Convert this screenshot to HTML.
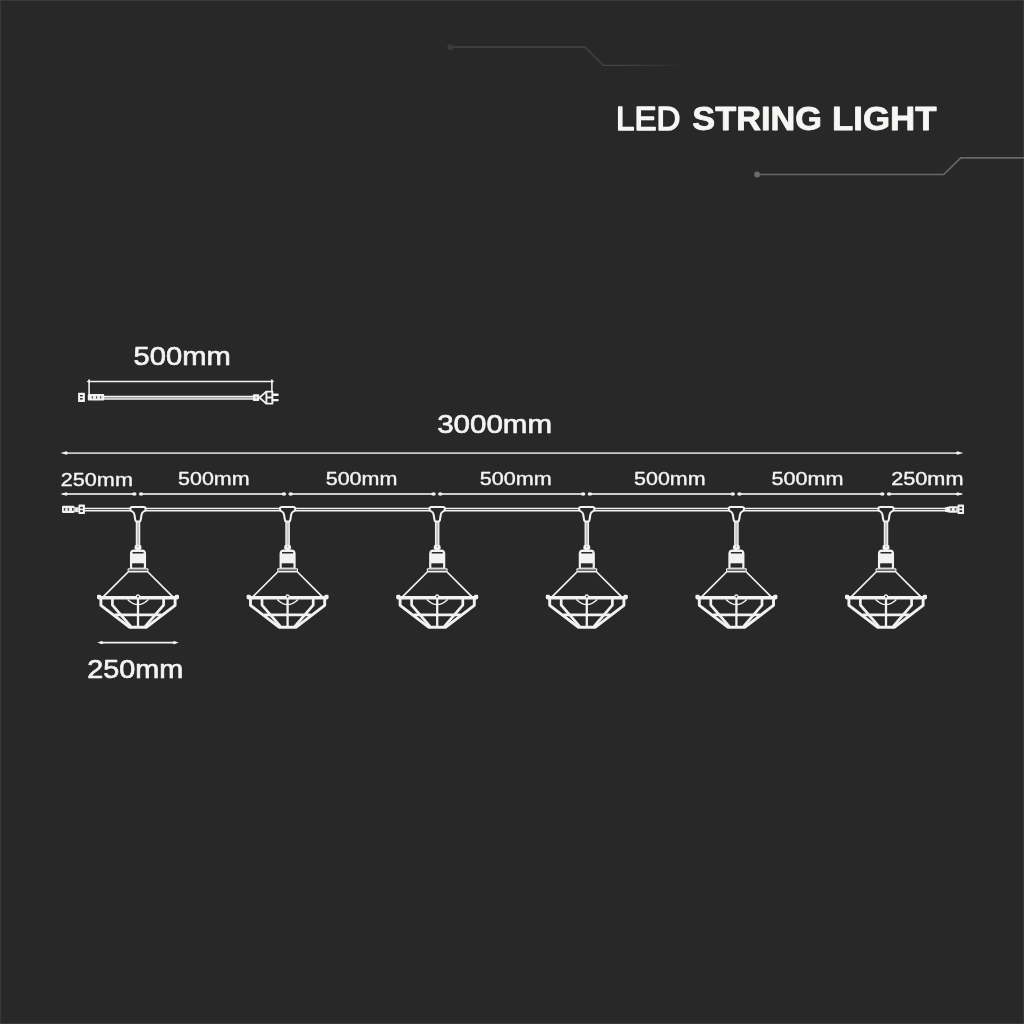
<!DOCTYPE html>
<html lang="en">
<head>
<meta charset="utf-8">
<title>LED String Light</title>
<style>
html,body{margin:0;padding:0;background:#282828;}
body{width:1024px;height:1024px;overflow:hidden;font-family:"Liberation Sans",sans-serif;}
svg{display:block;will-change:transform;}
text{font-family:"Liberation Sans","DejaVu Sans",sans-serif;fill:#f4f4f4;}
.lbl{font-size:26.2px;stroke:#f4f4f4;stroke-width:.65px;stroke-linejoin:round;}
.sm{font-size:19px;stroke:#f4f4f4;stroke-width:.38px;stroke-linejoin:round;}
</style>
</head>
<body>
<svg width="1024" height="1024" viewBox="0 0 1024 1024">
<defs>
<linearGradient id="fadeL" gradientUnits="userSpaceOnUse" x1="450" y1="0" x2="680" y2="0">
<stop offset="0" stop-color="#444"/><stop offset=".75" stop-color="#444"/><stop offset="1" stop-color="#2b2b2b"/>
</linearGradient>
</defs>
<rect x="0" y="0" width="1024" height="1024" fill="#282828"/>
<rect x=".5" y=".5" width="1023" height="1023" fill="none" stroke="#393939" stroke-width="1"/>
<!-- header decoration -->
<path d="M450.4,47 H584.7 L603.5,65.4 H679" fill="none" stroke="url(#fadeL)" stroke-width="1.4"/>
<circle cx="450.4" cy="47" r="3" fill="#3a3a3a"/>
<path d="M757,174.5 H943.7 L960.7,157.8 H1024" fill="none" stroke="#686868" stroke-width="1.7"/>
<circle cx="757.1" cy="174.5" r="2.9" fill="#6a6a6a"/>
<!-- title -->
<text x="616" y="129.9" font-size="33.2" stroke="#f6f6f4" stroke-width="1.5" stroke-linejoin="round" textLength="64.4" lengthAdjust="spacingAndGlyphs" style="fill:#f6f6f4">LED</text>
<text x="692.3" y="129.9" font-size="33.2" font-weight="700" stroke="#f6f6f4" stroke-width=".8" stroke-linejoin="round" textLength="129.8" lengthAdjust="spacingAndGlyphs" style="fill:#f6f6f4">STRING</text>
<text x="832" y="129.9" font-size="33.2" font-weight="700" stroke="#f6f6f4" stroke-width=".8" stroke-linejoin="round" textLength="104.6" lengthAdjust="spacingAndGlyphs" style="fill:#f6f6f4">LIGHT</text>

<!-- extension cable 500mm -->
<text class="lbl" x="133.6" y="364.8" textLength="97.1" lengthAdjust="spacingAndGlyphs">500mm</text>
<path d="M88.4,381.4 H272.6" stroke="#f2f2f2" stroke-width="1.45" fill="none"/>
<path d="M89.1,379.4 V394.4 M271.9,379.4 V391.2" stroke="#f2f2f2" stroke-width="1.6" fill="none"/>
<path d="M86.6,381.4 L90,379.6 V383.2 Z M274.4,381.4 L271,379.6 V383.2 Z" fill="#f2f2f2"/>
<path d="M104,397.7 H253" stroke="#a4a4a4" stroke-width="2.6" fill="none"/>
<path d="M104,396.3 H253 M104,399.1 H253" stroke="#f2f2f2" stroke-width="1.2" fill="none"/>
<rect x="78.1" y="392.8" width="6.8" height="9.2" rx=".6" fill="#f2f2f2"/>
<rect x="80" y="395" width="2.7" height="1.4" fill="#282828"/><rect x="80" y="398.1" width="2.7" height="1.4" fill="#282828"/>
<rect x="87.8" y="394.1" width="16.4" height="6.5" rx="1" fill="#f2f2f2"/>
<path d="M92.4,396.2 V398.6 M96.6,396.2 V398.6 M100.6,396.2 V398.6" stroke="#555" stroke-width="1.3"/>
<rect x="252.9" y="394.2" width="6.4" height="6.8" rx="1" fill="#f2f2f2"/>
<rect x="255.4" y="396.8" width="1.6" height="1.6" fill="#999"/>
<path d="M259.6,397.6 L266.2,391.6 H272.4 V403.6 H266.2 Z" fill="#282828" stroke="#f2f2f2" stroke-width="1.9" stroke-linejoin="round"/>
<path d="M266.4,391.4 V403.8 M266.4,397.5 H272.6" stroke="#f2f2f2" stroke-width="1.9"/>
<path d="M272.6,394.7 H277.6 M272.6,400.1 H277.6" stroke="#f2f2f2" stroke-width="2.4" stroke-linecap="round"/>

<!-- overall 3000mm -->
<text class="lbl" x="437.2" y="432.8" textLength="114.8" lengthAdjust="spacingAndGlyphs">3000mm</text>
<path d="M64,453.1 H960" stroke="#cbcbcb" stroke-width="1.8" fill="none"/>
<path d="M60.4,453.1 L66.59,451.35 Q69.00,453.1 66.59,454.85 Z" fill="#f0f0f0"/><path d="M963.4,453.1 L957.21,451.35 Q954.80,453.1 957.21,454.85 Z" fill="#f0f0f0"/>

<text class="sm" x="60.8" y="485.8" textLength="72.1" lengthAdjust="spacingAndGlyphs">250mm</text>
<text class="sm" x="178.1" y="484.8" textLength="71.4" lengthAdjust="spacingAndGlyphs">500mm</text>
<text class="sm" x="325.7" y="484.8" textLength="71.7" lengthAdjust="spacingAndGlyphs">500mm</text>
<text class="sm" x="479.8" y="484.8" textLength="71.9" lengthAdjust="spacingAndGlyphs">500mm</text>
<text class="sm" x="634.1" y="484.8" textLength="71.4" lengthAdjust="spacingAndGlyphs">500mm</text>
<text class="sm" x="771.5" y="484.8" textLength="72.0" lengthAdjust="spacingAndGlyphs">500mm</text>
<text class="sm" x="891.2" y="484.9" textLength="72.3" lengthAdjust="spacingAndGlyphs">250mm</text>
<path d="M62.4,494.0 H134.6" stroke="#cbcbcb" stroke-width="1.8" fill="none"/>
<path d="M60.4,494.0 L66.59,492.3 Q69.00,494.0 66.59,495.7 Z" fill="#f0f0f0"/><ellipse cx="134.3" cy="494.0" rx="2.3" ry="1.65" fill="#f0f0f0"/>
<path d="M140.8,494.0 H284.2" stroke="#cbcbcb" stroke-width="1.8" fill="none"/>
<ellipse cx="141.1" cy="494.0" rx="2.3" ry="1.65" fill="#f0f0f0"/><ellipse cx="283.9" cy="494.0" rx="2.3" ry="1.65" fill="#f0f0f0"/>
<path d="M290.4,494.0 H433.8" stroke="#cbcbcb" stroke-width="1.8" fill="none"/>
<ellipse cx="290.7" cy="494.0" rx="2.3" ry="1.65" fill="#f0f0f0"/><ellipse cx="433.5" cy="494.0" rx="2.3" ry="1.65" fill="#f0f0f0"/>
<path d="M440.0,494.0 H583.4" stroke="#cbcbcb" stroke-width="1.8" fill="none"/>
<ellipse cx="440.3" cy="494.0" rx="2.3" ry="1.65" fill="#f0f0f0"/><ellipse cx="583.1" cy="494.0" rx="2.3" ry="1.65" fill="#f0f0f0"/>
<path d="M589.6,494.0 H733.0" stroke="#cbcbcb" stroke-width="1.8" fill="none"/>
<ellipse cx="589.9" cy="494.0" rx="2.3" ry="1.65" fill="#f0f0f0"/><ellipse cx="732.7" cy="494.0" rx="2.3" ry="1.65" fill="#f0f0f0"/>
<path d="M739.2,494.0 H882.6" stroke="#cbcbcb" stroke-width="1.8" fill="none"/>
<ellipse cx="739.5" cy="494.0" rx="2.3" ry="1.65" fill="#f0f0f0"/><ellipse cx="882.3" cy="494.0" rx="2.3" ry="1.65" fill="#f0f0f0"/>
<path d="M888.8,494.0 H961.4" stroke="#cbcbcb" stroke-width="1.8" fill="none"/>
<ellipse cx="889.1" cy="494.0" rx="2.3" ry="1.65" fill="#f0f0f0"/><path d="M963.4,494.0 L957.21,492.3 Q954.80,494.0 957.21,495.7 Z" fill="#f0f0f0"/>
<!-- main cable -->
<path d="M84,509.5 H945.5" stroke="#555" stroke-width="2.6" fill="none"/>
<path d="M84,508.35 H945.5 M84,510.75 H945.5" stroke="#f2f2f2" stroke-width="1.35" fill="none"/>
<rect x="62" y="505.8" width="12.6" height="7.2" rx="1.2" fill="#f2f2f2"/>
<rect x="63.8" y="508" width="1.5" height="2.7" fill="#444"/><rect x="67.6" y="508" width="1.5" height="2.7" fill="#555"/><rect x="72" y="508" width="1.6" height="2.7" fill="#444"/>
<rect x="74.4" y="507.2" width="4.4" height="5" fill="#e6e6e6"/>
<rect x="78.5" y="504.6" width="6.4" height="9.4" rx=".6" fill="#f2f2f2"/>
<rect x="80.2" y="506.8" width="2.6" height="1.8" fill="#282828"/><rect x="80.2" y="510.2" width="2.6" height="1.8" fill="#282828"/>
<path d="M944.9,507.4 L950,506.2 H957.8 V512.7 H950 L944.9,511.8 Z" fill="#f2f2f2"/>
<rect x="950.3" y="508" width="1.5" height="2.7" fill="#555"/><rect x="954.7" y="508" width="1.6" height="2.7" fill="#666"/>
<rect x="957.6" y="504.6" width="6.4" height="9.4" rx=".6" fill="#f2f2f2"/>
<rect x="959.5" y="506.8" width="2.6" height="1.7" fill="#282828"/><rect x="959.5" y="510.3" width="2.6" height="1.7" fill="#282828"/>

<g transform="translate(138.00,0)">
<path d="M0,521 V545.4" stroke="#c4c4c4" stroke-width="3.6" fill="none"/>
<path d="M-1.65,521 V545.4 M1.65,521 V545.4" stroke="#f2f2f2" stroke-width="1.2" fill="none"/>
<path d="M-5.7,507 H5.7 Q7.7,507 7.7,508.9 Q7.7,510.8 5.6,511.6 Q4,512.4 3.6,514.5 L2.7,520 Q2.5,521.4 1.2,521.4 H-1.2 Q-2.5,521.4 -2.7,520 L-3.6,514.5 Q-4,512.4 -5.6,511.6 Q-7.7,510.8 -7.7,508.9 Q-7.7,507 -5.7,507 Z" fill="#282828" stroke="#f2f2f2" stroke-width="2" stroke-linejoin="round"/>
<rect x="-3.5" y="544.8" width="7" height="5.2" rx="2.2" fill="#f2f2f2"/>
<circle cx="0" cy="546.6" r=".55" fill="#777"/>
<path d="M-8.05,568.6 V554 Q-8.05,549.6 -3.8,549.6 H3.8 Q8.05,549.6 8.05,554 V568.6 Z" fill="#f2f2f2"/>
<rect x="-5.6" y="552.1" width="11.2" height="1.5" rx=".5" fill="#282828"/>
<rect x="-5.85" y="563.3" width="11.7" height="4.3" fill="#282828"/>
<rect x="-10.4" y="568.3" width="20.8" height="4.3" rx=".8" fill="#f2f2f2"/>
<rect x="-9.3" y="569.4" width="18.6" height="1.4" fill="#4a4a4a"/>
<path d="M-9.9,572 L-34.6,596.6 M9.9,572 L34.6,596.6" stroke="#f2f2f2" stroke-width="1.7" fill="none"/>
<path d="M-10.4,599.4 Q0,609.8 10.4,599.4" stroke="#f2f2f2" stroke-width="1.4" fill="none"/>
<path d="M-37.1,599 V605.3 L-8.6,627.2 H8.6 L37.1,605.3 V599" stroke="#f2f2f2" stroke-width="2.9" fill="none" stroke-linejoin="round"/>
<path d="M-25.6,599 V605.2 L-7.2,626.4 M25.6,599 V605.2 L7.2,626.4" stroke="#f2f2f2" stroke-width="2.7" fill="none" stroke-linejoin="round"/>
<path d="M-23.6,614.8 H23.6" stroke="#f2f2f2" stroke-width="2.8" fill="none"/>
<path d="M0,598 V627" stroke="#f2f2f2" stroke-width="2.3" fill="none"/>
<rect x="-40.4" y="596" width="80.8" height="3.4" rx=".8" fill="#f2f2f2"/>
<rect x="-41" y="594.7" width="4.2" height="4.2" rx="1.2" fill="#f2f2f2"/>
<rect x="36.8" y="594.7" width="4.2" height="4.2" rx="1.2" fill="#f2f2f2"/>
<circle cx="0" cy="596.6" r="1.6" fill="#282828" stroke="#f2f2f2" stroke-width="1.3"/>
</g>
<g transform="translate(287.60,0)">
<path d="M0,521 V545.4" stroke="#c4c4c4" stroke-width="3.6" fill="none"/>
<path d="M-1.65,521 V545.4 M1.65,521 V545.4" stroke="#f2f2f2" stroke-width="1.2" fill="none"/>
<path d="M-5.7,507 H5.7 Q7.7,507 7.7,508.9 Q7.7,510.8 5.6,511.6 Q4,512.4 3.6,514.5 L2.7,520 Q2.5,521.4 1.2,521.4 H-1.2 Q-2.5,521.4 -2.7,520 L-3.6,514.5 Q-4,512.4 -5.6,511.6 Q-7.7,510.8 -7.7,508.9 Q-7.7,507 -5.7,507 Z" fill="#282828" stroke="#f2f2f2" stroke-width="2" stroke-linejoin="round"/>
<rect x="-3.5" y="544.8" width="7" height="5.2" rx="2.2" fill="#f2f2f2"/>
<circle cx="0" cy="546.6" r=".55" fill="#777"/>
<path d="M-8.05,568.6 V554 Q-8.05,549.6 -3.8,549.6 H3.8 Q8.05,549.6 8.05,554 V568.6 Z" fill="#f2f2f2"/>
<rect x="-5.6" y="552.1" width="11.2" height="1.5" rx=".5" fill="#282828"/>
<rect x="-5.85" y="563.3" width="11.7" height="4.3" fill="#282828"/>
<rect x="-10.4" y="568.3" width="20.8" height="4.3" rx=".8" fill="#f2f2f2"/>
<rect x="-9.3" y="569.4" width="18.6" height="1.4" fill="#4a4a4a"/>
<path d="M-9.9,572 L-34.6,596.6 M9.9,572 L34.6,596.6" stroke="#f2f2f2" stroke-width="1.7" fill="none"/>
<path d="M-10.4,599.4 Q0,609.8 10.4,599.4" stroke="#f2f2f2" stroke-width="1.4" fill="none"/>
<path d="M-37.1,599 V605.3 L-8.6,627.2 H8.6 L37.1,605.3 V599" stroke="#f2f2f2" stroke-width="2.9" fill="none" stroke-linejoin="round"/>
<path d="M-25.6,599 V605.2 L-7.2,626.4 M25.6,599 V605.2 L7.2,626.4" stroke="#f2f2f2" stroke-width="2.7" fill="none" stroke-linejoin="round"/>
<path d="M-23.6,614.8 H23.6" stroke="#f2f2f2" stroke-width="2.8" fill="none"/>
<path d="M0,598 V627" stroke="#f2f2f2" stroke-width="2.3" fill="none"/>
<rect x="-40.4" y="596" width="80.8" height="3.4" rx=".8" fill="#f2f2f2"/>
<rect x="-41" y="594.7" width="4.2" height="4.2" rx="1.2" fill="#f2f2f2"/>
<rect x="36.8" y="594.7" width="4.2" height="4.2" rx="1.2" fill="#f2f2f2"/>
<circle cx="0" cy="596.6" r="1.6" fill="#282828" stroke="#f2f2f2" stroke-width="1.3"/>
</g>
<g transform="translate(437.20,0)">
<path d="M0,521 V545.4" stroke="#c4c4c4" stroke-width="3.6" fill="none"/>
<path d="M-1.65,521 V545.4 M1.65,521 V545.4" stroke="#f2f2f2" stroke-width="1.2" fill="none"/>
<path d="M-5.7,507 H5.7 Q7.7,507 7.7,508.9 Q7.7,510.8 5.6,511.6 Q4,512.4 3.6,514.5 L2.7,520 Q2.5,521.4 1.2,521.4 H-1.2 Q-2.5,521.4 -2.7,520 L-3.6,514.5 Q-4,512.4 -5.6,511.6 Q-7.7,510.8 -7.7,508.9 Q-7.7,507 -5.7,507 Z" fill="#282828" stroke="#f2f2f2" stroke-width="2" stroke-linejoin="round"/>
<rect x="-3.5" y="544.8" width="7" height="5.2" rx="2.2" fill="#f2f2f2"/>
<circle cx="0" cy="546.6" r=".55" fill="#777"/>
<path d="M-8.05,568.6 V554 Q-8.05,549.6 -3.8,549.6 H3.8 Q8.05,549.6 8.05,554 V568.6 Z" fill="#f2f2f2"/>
<rect x="-5.6" y="552.1" width="11.2" height="1.5" rx=".5" fill="#282828"/>
<rect x="-5.85" y="563.3" width="11.7" height="4.3" fill="#282828"/>
<rect x="-10.4" y="568.3" width="20.8" height="4.3" rx=".8" fill="#f2f2f2"/>
<rect x="-9.3" y="569.4" width="18.6" height="1.4" fill="#4a4a4a"/>
<path d="M-9.9,572 L-34.6,596.6 M9.9,572 L34.6,596.6" stroke="#f2f2f2" stroke-width="1.7" fill="none"/>
<path d="M-10.4,599.4 Q0,609.8 10.4,599.4" stroke="#f2f2f2" stroke-width="1.4" fill="none"/>
<path d="M-37.1,599 V605.3 L-8.6,627.2 H8.6 L37.1,605.3 V599" stroke="#f2f2f2" stroke-width="2.9" fill="none" stroke-linejoin="round"/>
<path d="M-25.6,599 V605.2 L-7.2,626.4 M25.6,599 V605.2 L7.2,626.4" stroke="#f2f2f2" stroke-width="2.7" fill="none" stroke-linejoin="round"/>
<path d="M-23.6,614.8 H23.6" stroke="#f2f2f2" stroke-width="2.8" fill="none"/>
<path d="M0,598 V627" stroke="#f2f2f2" stroke-width="2.3" fill="none"/>
<rect x="-40.4" y="596" width="80.8" height="3.4" rx=".8" fill="#f2f2f2"/>
<rect x="-41" y="594.7" width="4.2" height="4.2" rx="1.2" fill="#f2f2f2"/>
<rect x="36.8" y="594.7" width="4.2" height="4.2" rx="1.2" fill="#f2f2f2"/>
<circle cx="0" cy="596.6" r="1.6" fill="#282828" stroke="#f2f2f2" stroke-width="1.3"/>
</g>
<g transform="translate(586.80,0)">
<path d="M0,521 V545.4" stroke="#c4c4c4" stroke-width="3.6" fill="none"/>
<path d="M-1.65,521 V545.4 M1.65,521 V545.4" stroke="#f2f2f2" stroke-width="1.2" fill="none"/>
<path d="M-5.7,507 H5.7 Q7.7,507 7.7,508.9 Q7.7,510.8 5.6,511.6 Q4,512.4 3.6,514.5 L2.7,520 Q2.5,521.4 1.2,521.4 H-1.2 Q-2.5,521.4 -2.7,520 L-3.6,514.5 Q-4,512.4 -5.6,511.6 Q-7.7,510.8 -7.7,508.9 Q-7.7,507 -5.7,507 Z" fill="#282828" stroke="#f2f2f2" stroke-width="2" stroke-linejoin="round"/>
<rect x="-3.5" y="544.8" width="7" height="5.2" rx="2.2" fill="#f2f2f2"/>
<circle cx="0" cy="546.6" r=".55" fill="#777"/>
<path d="M-8.05,568.6 V554 Q-8.05,549.6 -3.8,549.6 H3.8 Q8.05,549.6 8.05,554 V568.6 Z" fill="#f2f2f2"/>
<rect x="-5.6" y="552.1" width="11.2" height="1.5" rx=".5" fill="#282828"/>
<rect x="-5.85" y="563.3" width="11.7" height="4.3" fill="#282828"/>
<rect x="-10.4" y="568.3" width="20.8" height="4.3" rx=".8" fill="#f2f2f2"/>
<rect x="-9.3" y="569.4" width="18.6" height="1.4" fill="#4a4a4a"/>
<path d="M-9.9,572 L-34.6,596.6 M9.9,572 L34.6,596.6" stroke="#f2f2f2" stroke-width="1.7" fill="none"/>
<path d="M-10.4,599.4 Q0,609.8 10.4,599.4" stroke="#f2f2f2" stroke-width="1.4" fill="none"/>
<path d="M-37.1,599 V605.3 L-8.6,627.2 H8.6 L37.1,605.3 V599" stroke="#f2f2f2" stroke-width="2.9" fill="none" stroke-linejoin="round"/>
<path d="M-25.6,599 V605.2 L-7.2,626.4 M25.6,599 V605.2 L7.2,626.4" stroke="#f2f2f2" stroke-width="2.7" fill="none" stroke-linejoin="round"/>
<path d="M-23.6,614.8 H23.6" stroke="#f2f2f2" stroke-width="2.8" fill="none"/>
<path d="M0,598 V627" stroke="#f2f2f2" stroke-width="2.3" fill="none"/>
<rect x="-40.4" y="596" width="80.8" height="3.4" rx=".8" fill="#f2f2f2"/>
<rect x="-41" y="594.7" width="4.2" height="4.2" rx="1.2" fill="#f2f2f2"/>
<rect x="36.8" y="594.7" width="4.2" height="4.2" rx="1.2" fill="#f2f2f2"/>
<circle cx="0" cy="596.6" r="1.6" fill="#282828" stroke="#f2f2f2" stroke-width="1.3"/>
</g>
<g transform="translate(736.40,0)">
<path d="M0,521 V545.4" stroke="#c4c4c4" stroke-width="3.6" fill="none"/>
<path d="M-1.65,521 V545.4 M1.65,521 V545.4" stroke="#f2f2f2" stroke-width="1.2" fill="none"/>
<path d="M-5.7,507 H5.7 Q7.7,507 7.7,508.9 Q7.7,510.8 5.6,511.6 Q4,512.4 3.6,514.5 L2.7,520 Q2.5,521.4 1.2,521.4 H-1.2 Q-2.5,521.4 -2.7,520 L-3.6,514.5 Q-4,512.4 -5.6,511.6 Q-7.7,510.8 -7.7,508.9 Q-7.7,507 -5.7,507 Z" fill="#282828" stroke="#f2f2f2" stroke-width="2" stroke-linejoin="round"/>
<rect x="-3.5" y="544.8" width="7" height="5.2" rx="2.2" fill="#f2f2f2"/>
<circle cx="0" cy="546.6" r=".55" fill="#777"/>
<path d="M-8.05,568.6 V554 Q-8.05,549.6 -3.8,549.6 H3.8 Q8.05,549.6 8.05,554 V568.6 Z" fill="#f2f2f2"/>
<rect x="-5.6" y="552.1" width="11.2" height="1.5" rx=".5" fill="#282828"/>
<rect x="-5.85" y="563.3" width="11.7" height="4.3" fill="#282828"/>
<rect x="-10.4" y="568.3" width="20.8" height="4.3" rx=".8" fill="#f2f2f2"/>
<rect x="-9.3" y="569.4" width="18.6" height="1.4" fill="#4a4a4a"/>
<path d="M-9.9,572 L-34.6,596.6 M9.9,572 L34.6,596.6" stroke="#f2f2f2" stroke-width="1.7" fill="none"/>
<path d="M-10.4,599.4 Q0,609.8 10.4,599.4" stroke="#f2f2f2" stroke-width="1.4" fill="none"/>
<path d="M-37.1,599 V605.3 L-8.6,627.2 H8.6 L37.1,605.3 V599" stroke="#f2f2f2" stroke-width="2.9" fill="none" stroke-linejoin="round"/>
<path d="M-25.6,599 V605.2 L-7.2,626.4 M25.6,599 V605.2 L7.2,626.4" stroke="#f2f2f2" stroke-width="2.7" fill="none" stroke-linejoin="round"/>
<path d="M-23.6,614.8 H23.6" stroke="#f2f2f2" stroke-width="2.8" fill="none"/>
<path d="M0,598 V627" stroke="#f2f2f2" stroke-width="2.3" fill="none"/>
<rect x="-40.4" y="596" width="80.8" height="3.4" rx=".8" fill="#f2f2f2"/>
<rect x="-41" y="594.7" width="4.2" height="4.2" rx="1.2" fill="#f2f2f2"/>
<rect x="36.8" y="594.7" width="4.2" height="4.2" rx="1.2" fill="#f2f2f2"/>
<circle cx="0" cy="596.6" r="1.6" fill="#282828" stroke="#f2f2f2" stroke-width="1.3"/>
</g>
<g transform="translate(886.00,0)">
<path d="M0,521 V545.4" stroke="#c4c4c4" stroke-width="3.6" fill="none"/>
<path d="M-1.65,521 V545.4 M1.65,521 V545.4" stroke="#f2f2f2" stroke-width="1.2" fill="none"/>
<path d="M-5.7,507 H5.7 Q7.7,507 7.7,508.9 Q7.7,510.8 5.6,511.6 Q4,512.4 3.6,514.5 L2.7,520 Q2.5,521.4 1.2,521.4 H-1.2 Q-2.5,521.4 -2.7,520 L-3.6,514.5 Q-4,512.4 -5.6,511.6 Q-7.7,510.8 -7.7,508.9 Q-7.7,507 -5.7,507 Z" fill="#282828" stroke="#f2f2f2" stroke-width="2" stroke-linejoin="round"/>
<rect x="-3.5" y="544.8" width="7" height="5.2" rx="2.2" fill="#f2f2f2"/>
<circle cx="0" cy="546.6" r=".55" fill="#777"/>
<path d="M-8.05,568.6 V554 Q-8.05,549.6 -3.8,549.6 H3.8 Q8.05,549.6 8.05,554 V568.6 Z" fill="#f2f2f2"/>
<rect x="-5.6" y="552.1" width="11.2" height="1.5" rx=".5" fill="#282828"/>
<rect x="-5.85" y="563.3" width="11.7" height="4.3" fill="#282828"/>
<rect x="-10.4" y="568.3" width="20.8" height="4.3" rx=".8" fill="#f2f2f2"/>
<rect x="-9.3" y="569.4" width="18.6" height="1.4" fill="#4a4a4a"/>
<path d="M-9.9,572 L-34.6,596.6 M9.9,572 L34.6,596.6" stroke="#f2f2f2" stroke-width="1.7" fill="none"/>
<path d="M-10.4,599.4 Q0,609.8 10.4,599.4" stroke="#f2f2f2" stroke-width="1.4" fill="none"/>
<path d="M-37.1,599 V605.3 L-8.6,627.2 H8.6 L37.1,605.3 V599" stroke="#f2f2f2" stroke-width="2.9" fill="none" stroke-linejoin="round"/>
<path d="M-25.6,599 V605.2 L-7.2,626.4 M25.6,599 V605.2 L7.2,626.4" stroke="#f2f2f2" stroke-width="2.7" fill="none" stroke-linejoin="round"/>
<path d="M-23.6,614.8 H23.6" stroke="#f2f2f2" stroke-width="2.8" fill="none"/>
<path d="M0,598 V627" stroke="#f2f2f2" stroke-width="2.3" fill="none"/>
<rect x="-40.4" y="596" width="80.8" height="3.4" rx=".8" fill="#f2f2f2"/>
<rect x="-41" y="594.7" width="4.2" height="4.2" rx="1.2" fill="#f2f2f2"/>
<rect x="36.8" y="594.7" width="4.2" height="4.2" rx="1.2" fill="#f2f2f2"/>
<circle cx="0" cy="596.6" r="1.6" fill="#282828" stroke="#f2f2f2" stroke-width="1.3"/>
</g>
<!-- lamp width -->
<path d="M100,642.6 H176" stroke="#f2f2f2" stroke-width="1.9" fill="none"/>
<path d="M97.2,642.6 L102.24,640.9 Q104.20,642.6 102.24,644.3000000000001 Z" fill="#f2f2f2"/><path d="M178.8,642.6 L173.76,640.9 Q171.80,642.6 173.76,644.3000000000001 Z" fill="#f2f2f2"/>
<text class="lbl" style="font-size:25.2px" x="87.3" y="677.5" textLength="96" lengthAdjust="spacingAndGlyphs">250mm</text>
</svg>
</body>
</html>
